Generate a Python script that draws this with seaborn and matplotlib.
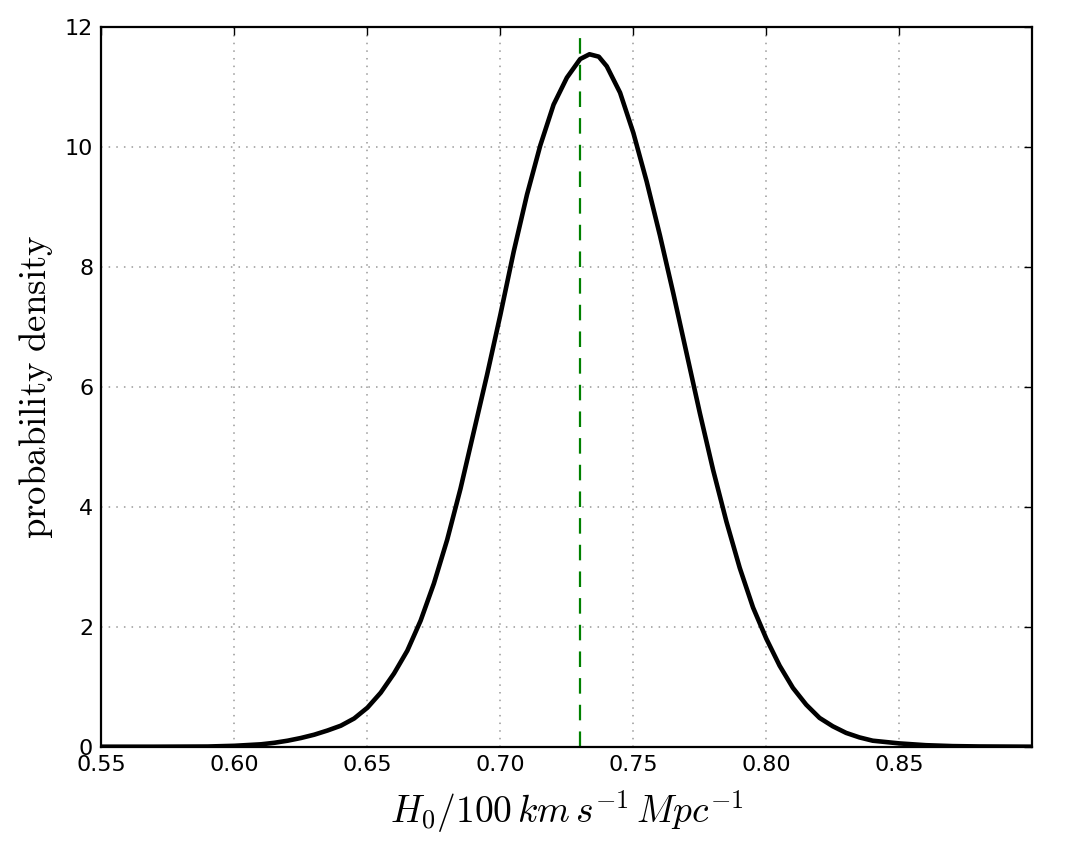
import numpy as np
import pandas as pd
import matplotlib
matplotlib.use("Agg")
import matplotlib.pyplot as plt
import seaborn as sns

# Werte
h0 = [0.550, 0.570, 0.590, 0.600, 0.610, 0.615, 0.620, 0.625, 0.630, 0.635,
      0.640, 0.645, 0.650, 0.655, 0.660, 0.665, 0.670, 0.675, 0.680, 0.685,
      0.690, 0.695, 0.700, 0.705, 0.710, 0.715, 0.720, 0.725, 0.730, 0.7335,
      0.737, 0.740, 0.745, 0.750, 0.755, 0.760, 0.765, 0.770, 0.775, 0.780,
      0.785, 0.790, 0.795, 0.800, 0.805, 0.810, 0.815, 0.820, 0.825, 0.830,
      0.835, 0.840, 0.850, 0.860, 0.870, 0.880, 0.8999]
density = [0.000, 0.000, 0.003, 0.015, 0.040, 0.065, 0.100, 0.145, 0.200, 0.270,
           0.350, 0.470, 0.650, 0.900, 1.220, 1.600, 2.100, 2.720, 3.450, 4.300,
           5.250, 6.200, 7.200, 8.250, 9.200, 10.020, 10.700, 11.150, 11.460, 11.540,
           11.500, 11.340, 10.900, 10.230, 9.420, 8.520, 7.560, 6.560, 5.560, 4.610,
           3.750, 2.980, 2.320, 1.800, 1.350, 0.980, 0.700, 0.480, 0.340, 0.230,
           0.155, 0.100, 0.055, 0.025, 0.010, 0.004, 0.000]
h0_true = 0.73

xticks = [0.55, 0.60, 0.65, 0.70, 0.75, 0.80, 0.85]
yticks = [0, 2, 4, 6, 8, 10, 12]

df = pd.DataFrame({"h0": h0, "density": density})

sns.set_style("white")
plt.rcParams["mathtext.fontset"] = "cm"
plt.rcParams["font.family"] = ["DejaVu Sans"]

fig = plt.figure(figsize=(10.75, 8.49), dpi=100)
ax = fig.add_axes([0.0944, 0.1205, 0.8656, 0.8481])

sns.lineplot(data=df, x="h0", y="density", color="k", lw=3.3, ax=ax)
ax.axvline(h0_true, color="g", lw=1.6, ls=(0, (7, 5)))

ax.set_xlim(0.55, 0.8999)
ax.set_ylim(0, 12)
ax.set_xticks(xticks)
ax.set_xticklabels([f"{t:.2f}" for t in xticks])
ax.set_yticks(yticks)

ax.grid(True, color="0.6", ls=(0, (1, 4)), lw=1.1)
ax.tick_params(direction="in", length=6, width=1, top=True, right=True,
               labelsize=16, pad=6, colors="k")
for sp in ax.spines.values():
    sp.set_color("k")
    sp.set_linewidth(1.6)

ax.set_xlabel(r"$H_0/100\,km\,s^{-1}\,Mpc^{-1}$", fontsize=27, labelpad=9.5, color="k")
ax.set_ylabel(r"$\mathrm{probability\ density}$", fontsize=26.5, labelpad=7, color="k")

fig.savefig("out.png", dpi=100, facecolor="white")
